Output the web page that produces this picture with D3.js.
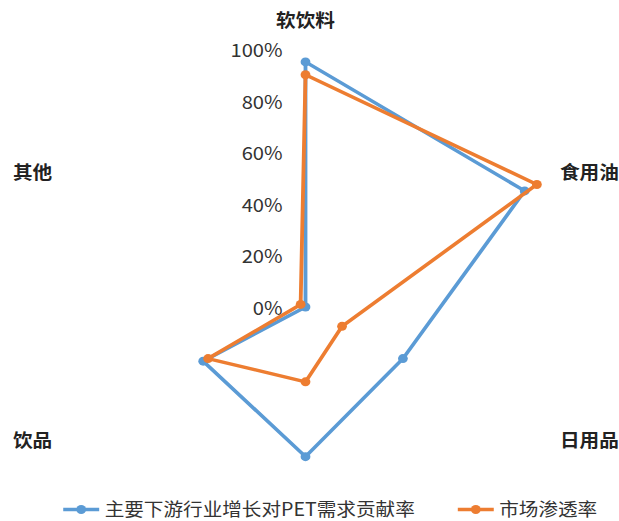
<!DOCTYPE html>
<meta charset="utf-8">
<style>
    body { margin: 0; background: #fff; }
    text { font-family: "Noto Sans CJK SC", "Noto Sans", sans-serif; fill: #222; }
    .cat { font-size: 18px; font-weight: bold; }
    .tick { font-size: 18.5px; fill: #333; }
    .legend text { font-size: 18px; fill: #333; }
</style>
<script src="https://d3js.org/d3.v7.min.js"></script>
<svg width="619" height="521"></svg>
<script>
    var categories = ["软饮料", "食用油", "日用品", "", "饮品", "其他"];
    var demandShare = [0.95, 0.90, 0.40, 0.58, 0.42, 0.00];
    var penetration = [0.90, 0.95, 0.15, 0.29, 0.40, 0.02];
    var tickValues = [0, 0.2, 0.4, 0.6, 0.8, 1.0];
    var seriesNames = ["主要下游行业增长对PET需求贡献率", "市场渗透率"];
    var colors = ["#5B9BD5", "#ED7D31"];

    // the original picture is stretched sideways a little
    var sx = 1.09;
    var svg = d3.select("svg");
    var root = svg.append("g").attr("transform", "scale(" + sx + ",1)");

    var cx = 305.5 / sx, cy = 307, R = 258;
    var r = d3.scaleLinear().domain([0, 1]).range([0, R]);
    var n = categories.length;
    var angle = function (i) { return i * 2 * Math.PI / n; };

    var chart = root.append("g").attr("transform", "translate(" + cx + "," + cy + ")");

    // tick labels along the top axis
    chart.selectAll(".tick")
        .data(tickValues)
        .enter().append("text")
        .attr("class", "tick")
        .attr("x", -21)
        .attr("y", function (d) { return -r(d) + 1.5; })
        .attr("dy", "0.35em")
        .attr("text-anchor", "end")
        .text(function (d) { return d3.format(".0%")(d); });

    // category labels
    chart.selectAll(".cat")
        .data(categories)
        .enter().append("text")
        .attr("class", "cat")
        .attr("x", function (d, i) {
            var s = Math.sin(angle(i));
            return R * s + (Math.abs(s) < 0.01 ? 0 : (s > 0 ? 10 : -9));
        })
        .attr("y", function (d, i) {
            var c = Math.cos(angle(i));
            if (Math.abs(c - 1) < 0.01) return -R - 28;
            return -R * c + (c > 0 ? -5 : 5);
        })
        .attr("dy", "0.35em")
        .attr("text-anchor", function (d, i) {
            var s = Math.sin(angle(i));
            return Math.abs(s) < 0.01 ? "middle" : (s > 0 ? "start" : "end");
        })
        .text(function (d) { return d; });

    var line = d3.lineRadial()
        .angle(function (d, i) { return angle(i); })
        .radius(function (d) { return r(d); })
        .curve(d3.curveLinearClosed);

    [demandShare, penetration].forEach(function (values, k) {
        var g = chart.append("g");
        g.append("path")
            .attr("d", line(values))
            .attr("fill", "none")
            .attr("stroke", colors[k])
            .attr("stroke-width", 3.5)
            .attr("stroke-linejoin", "round");
        g.selectAll("circle")
            .data(values)
            .enter().append("circle")
            .attr("cx", function (d, i) { return r(d) * Math.sin(angle(i)); })
            .attr("cy", function (d, i) { return -r(d) * Math.cos(angle(i)); })
            .attr("r", 4.5)
            .attr("fill", colors[k]);
    });

    // legend
    var legend = root.append("g").attr("class", "legend")
        .attr("transform", "translate(0,509.5)");
    var legendX = [58, 420];
    seriesNames.forEach(function (name, k) {
        var item = legend.append("g").attr("transform", "translate(" + legendX[k] + ",0)");
        item.append("line")
            .attr("x1", 0).attr("x2", 33)
            .attr("stroke", colors[k]).attr("stroke-width", 3.5);
        item.append("circle").attr("cx", 16.5).attr("r", 4.5).attr("fill", colors[k]);
        item.append("text").attr("x", 38).attr("dy", "0.35em").text(name);
    });
</script>
